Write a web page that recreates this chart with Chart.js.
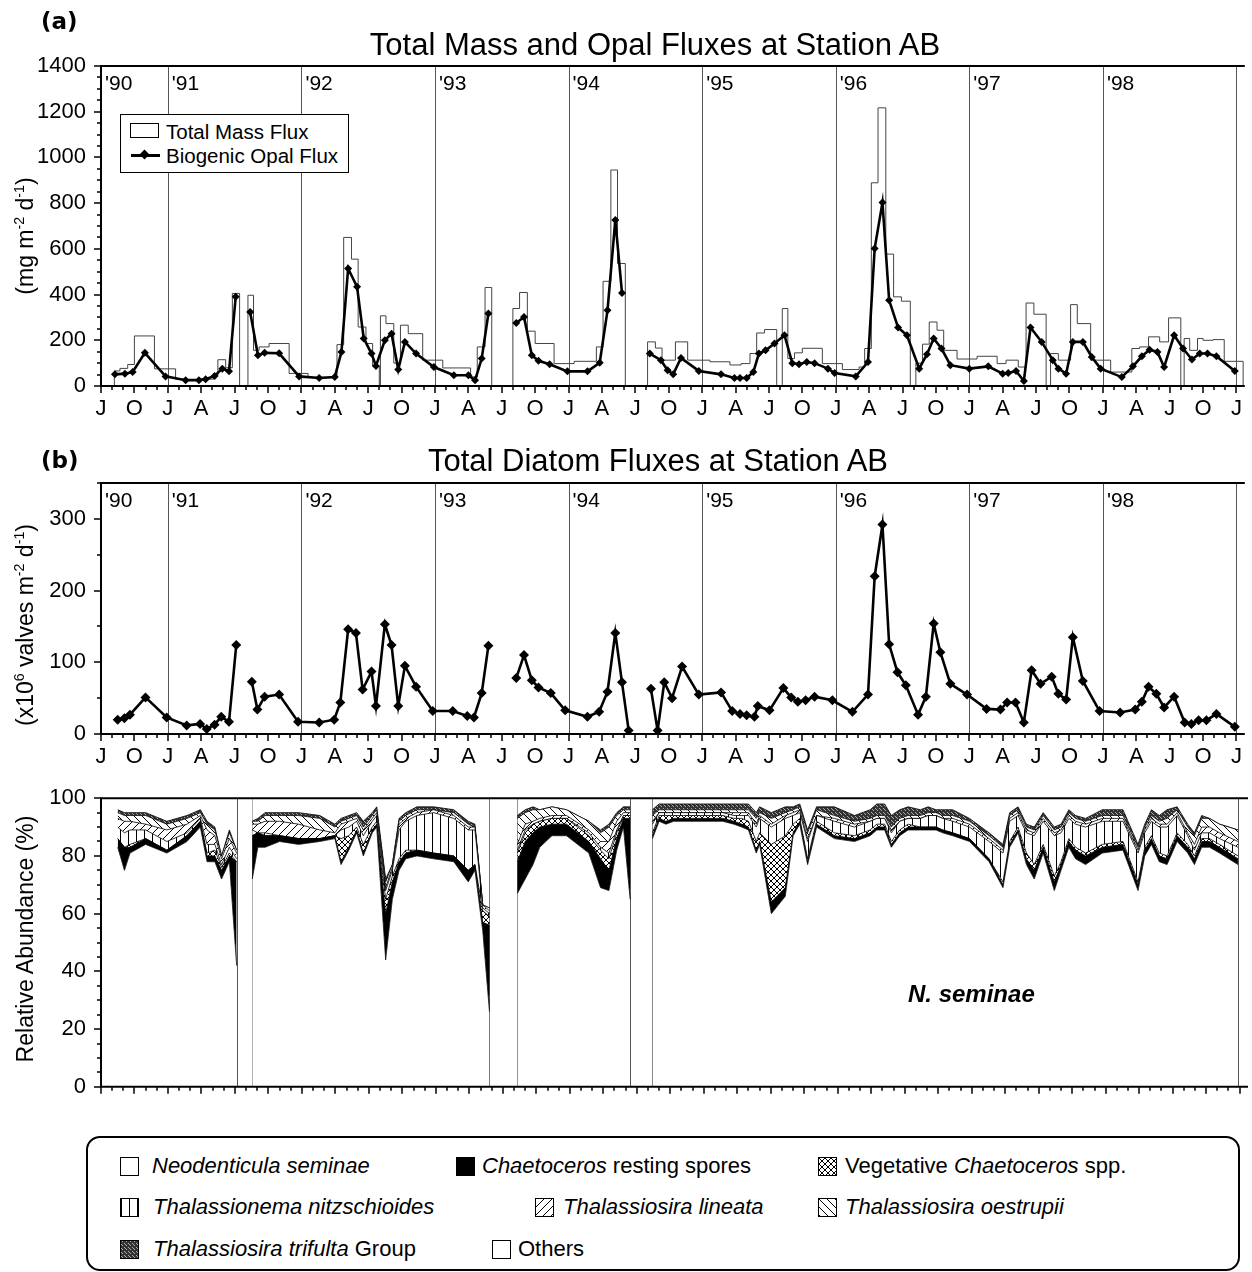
<!DOCTYPE html>
<html>
<head>
<meta charset="utf-8">
<title>Station AB fluxes</title>
<script src="https://cdn.jsdelivr.net/npm/chart.js@4.4.1/dist/chart.umd.min.js"></script>
<style>
  html,body{margin:0;padding:0;background:#fff}
  #page{position:relative;width:1252px;height:1272px;overflow:hidden;font-family:"Liberation Sans",Arial,sans-serif;color:#000}
  #page canvas.chart{position:absolute;left:0}
  .t{position:absolute;white-space:nowrap;line-height:1}
  .c{transform:translateX(-50%)}
  .rot{position:absolute;white-space:nowrap;line-height:1;font-size:23px;transform:translate(-50%,-50%) rotate(-90deg)}
  .rot sup{font-size:0.62em;vertical-align:0.6em;line-height:0}
  .tag{font-family:"DejaVu Sans",sans-serif;font-weight:bold;font-size:23px}
  .title{font-size:31px}
  #legA{position:absolute;left:120px;top:114px;width:227px;height:57px;border:1px solid #000;background:#fff}
  #legC{position:absolute;left:86px;top:1136px;width:1150px;height:131px;border:2px solid #000;border-radius:14px}
  .sw{position:absolute;border:1px solid #000}
  .lg{font-size:22px}
</style>
</head>
<body>
<div id="page">
  <canvas class="chart" id="c1" width="1252" height="430" style="top:0"></canvas>
  <canvas class="chart" id="c2" width="1252" height="340" style="top:430px"></canvas>
  <canvas class="chart" id="c3" width="1252" height="345" style="top:770px"></canvas>

  <div class="t tag" style="left:41px;top:10px">(a)</div>
  <div class="t title c" style="left:655px;top:29px">Total Mass and Opal Fluxes at Station AB</div>
  <div class="rot" style="left:25px;top:236px">(mg m<sup>-2</sup> d<sup>-1</sup>)</div>

  <div id="legA">
    <div style="position:absolute;left:9px;top:8px;width:29px;height:15px;border:1px solid #000;box-sizing:border-box"></div>
    <div class="t" style="left:45px;top:7px;font-size:20.5px">Total Mass Flux</div>
    <div style="position:absolute;left:10px;top:39px;width:29px;height:3px;background:#000"></div>
    <div style="position:absolute;left:20px;top:36px;width:7px;height:7px;background:#000;transform:rotate(45deg)"></div>
    <div class="t" style="left:45px;top:31px;font-size:20.5px">Biogenic Opal Flux</div>
  </div>

  <div class="t tag" style="left:41px;top:449px">(b)</div>
  <div class="t title c" style="left:658px;top:445px">Total Diatom Fluxes at Station AB</div>
  <div class="rot" style="left:25px;top:625px">(x10<sup>6</sup> valves m<sup>-2</sup> d<sup>-1</sup>)</div>

  <div class="rot" style="left:25px;top:939px">Relative Abundance (%)</div>
  <div class="t" style="left:908px;top:982px;font-size:24px;font-weight:bold;font-style:italic">N. seminae</div>

  <div id="legC"></div>
  <div id="legItems"></div>
</div>

<script>
// ---- axis: months since Jan 1990 ----
const X_MIN = 6, X_MAX = 108.75;
const yearTags = ["'90", "'91", "'92", "'93", "'94", "'95", "'96", "'97", "'98"];
const monthTags = {0: 'J', 3: 'A', 6: 'J', 9: 'O'};

// ---- (a) total mass flux, one value per trap cup ----
const cupStart = [7.2,7.7,8.4,9.0,10.8,12.7,16.1,16.5,17.2,17.8,
  19.2,19.7,20.2,21.1,22.9,24.6,27.2,27.8,28.5,29.1,29.8,30.4,
  31.1,31.6,32.3,32.9,33.6,34.9,36.7,39.2,39.8,40.5,
  43.0,43.6,44.3,45.0,46.7,48.5,50.5,51.1,51.8,52.4,
  55.1,55.8,56.4,57.6,58.7,60.7,62.5,63.5,64.3,64.9,65.6,
  67.2,67.7,68.3,69.0,70.8,72.6,74.1,74.6,75.2,75.8,76.5,77.2,77.9,
  79.2,79.8,80.4,81.1,81.7,82.9,84.7,86.5,87.3,88.4,89.1,89.8,
  91.3,92.0,93.1,93.7,94.9,96.7,98.6,99.3,100.1,101.1,101.9,
  103.3,103.8,104.5,105.0,105.9,106.9];
const totalMass = [66,77,94,219,75,30,45,115,80,405,
  397,156,171,186,55,38,181,650,555,258,186,88,
  307,273,100,266,229,113,79,40,171,431,
  339,409,240,186,98,108,171,458,945,536,
  193,166,113,193,113,106,92,98,142,232,247,
  339,120,145,165,98,72,83,164,889,1217,577,390,371,
  100,183,280,244,156,118,130,98,113,83,363,314,
  142,113,356,273,113,61,164,171,215,193,298,
  208,156,208,200,203,108];
const deployEnd = [18.45,31.0,41.1,53.1,66.7,78.7,90.9,103.0,108.6];

// ---- (a) biogenic opal flux ----
const opalMonth = [7.25,8.15,8.84,9.94,11.8,13.6,14.8,15.4,16.2,16.9,17.5,18.1, 18.8,
  19.4,20.1,20.7,22.0,23.8,25.6,27.0,27.6,28.2,29.0,29.6,30.3,30.7,31.5,32.1,32.7,33.3,34.3,35.9,37.7,39.0,39.6,40.2,40.8, 42.0,
  43.3,44.0,44.7,45.3,46.3,47.9,49.7,50.8,51.5,52.2,52.8, 54.0,
  55.3,56.3,56.9,57.4,58.1,59.7,61.7,62.9,63.4,64.0,64.6,65.1,65.7,66.5,67.4,68.1,68.7,69.4,70.1,71.3,
  71.9,73.8,74.9,75.5,76.2,76.8,77.6,78.4,79.5,80.2,80.8,81.5,82.3,84.0,85.7,87.0,87.5,88.2,88.9,89.5,
  90.5,91.5,92.0,92.7,93.3,94.2,95.0,95.8,97.7,98.7,99.5,100.2,100.9,101.5,102.4,103.2,104.0,104.7,105.4,106.2,107.85];
const opalFlux = [51,54,61,145,42,25,25,30,44,76,65,390, null,
  324,134,145,143,42,35,39,149,514,434,208,142,88,200,229,72,193,142,83,47,47,25,120,317, null,
  276,302,134,110,95,64,64,102,331,726,407, null,
  142,113,69,51,123,66,51,35,35,35,61,142,156,186,222,100,95,105,100,76,
  57,42,105,602,803,375,256,222,76,139,208,164,91,76,86,54,57,66,22,256,
  193,113,76,54,193,193,127,76,39,86,130,159,149,83,222,164,116,142,142,130,66];

// ---- (b) diatom flux and (c) relative abundance share these sample dates ----
const sampleMonth = [7.5,8.1,8.6,10.0,11.9,13.7,14.9,15.5,16.2,16.8,17.5,18.15, 18.8,
  19.55,20.05,20.7,22.0,23.7,25.6,26.95,27.5,28.2,28.9,29.5,30.3,30.7,31.5,32.1,32.7,33.3,34.3,35.8,37.6,38.9,39.5,40.2,40.8, 42.0,
  43.3,44.0,44.7,45.3,46.4,47.7,49.7,50.75,51.5,52.2,52.8,53.4, 54.4,
  55.4,56.0,56.6,57.3,58.2,59.7,61.7,62.7,63.4,64.0,64.7,65.0,66.05,67.3,68.0,68.6,69.3,70.1,71.7,73.5,
  74.9,75.5,76.2,76.8,77.55,78.3,79.4,80.1,80.8,81.4,82.3,83.8,85.55,86.8,87.4,88.15,88.9,89.6,90.4,91.4,
  92.0,92.7,93.3,94.2,95.7,97.55,98.9,99.5,100.1,100.8,101.5,102.4,103.35,103.95,104.6,105.3,106.2,107.85];
const diatomFlux = [20,22,27,51,23,12,14,7,13,24,17,124, null,
  73,34,52,55,17,16,20,44,146,141,62,87,39,153,124,39,95,66,32,32,25,23,57,123, null,
  78,110,75,65,57,33,24,31,59,141,72,5, null,
  63,5,72,50,94,55,58,32,28,26,24,39,33,64,51,45,47,52,47,31,
  55,220,292,125,86,68,27,52,154,114,70,55,35,34,44,44,16,89,70,80,
  56,48,135,74,32,30,34,45,66,56,37,52,16,14,19,19,28,10];

// relative abundance (%) of each group, bottom to top
const nSeminae = [83,75,81,84,81,85,90,78,78,72,78,42, null,
  72,83,83,85,84,85,86,77,82,88,80,88,90,44,65,75,79,80,79,78,71,75,54,26, null,
  67,72,77,83,87,87,81,69,68,82,90,65, null,
  86,92,91,92,92,92,92,91,90,89, 81,84,60,66,87,91,77,90,86,85, 87,89,89,83,87,89,89,89,89,88,
  87,85,78,69,83,88,77,72,81,68, 75,83,79,77,81,82,68,80,84,78, 77,85,81,77,83,83,81,77];
const restSpores = [3,8,2,2,1,2,2,2,2,3,2,36, null,
  15,5,4,2,2,1,1,1,1,1,1,1,1,16,6,3,2,2,2,2,4,2,3,30, null,
  11,13,11,7,4,4,4,10,7,4,3,28, null,
  1,1,1,1,1,1,1,1,1,1, 1,1,4,3,1,1,1,1,1,1, 1,1,1,1,1,1,1,1,1,1,
  1,1,1,1,1,1,2,3,2,3, 2,2,3,3,2,2,2,2,2,2, 2,2,2,2,2,2,2,2];
const vegChaet = [0,0,1,0,0,0,0,1,2,1,1,0, null,
  0,0,0,0,0,0,0,8,4,1,3,1,1,5,2,1,1,0,0,0,0,0,4,3, null,
  3,3,3,2,2,2,2,3,4,2,1,1, null,
  1,1,2,1,1,1,1,1,2,2, 3,3,20,18,3,1,1,1,1,1, 1,1,1,1,1,1,0,0,0,0,
  0,0,0,1,1,1,2,2,1,2, 1,1,1,1,1,1,1,1,1,1, 1,1,1,1,1,1,1,1];
const tNitz = [4,5,5,3,3,1,1,3,2,1,2,1, null,
  2,0,1,0,0,0,0,3,3,2,3,2,2,3,2,10,10,12,14,13,14,12,1,1, null,
  1,1,0,0,0,0,1,1,2,1,0,0, null,
  3,1,1,1,1,1,1,1,1,2, 5,5,6,6,3,2,6,2,4,3, 3,2,2,3,3,2,3,4,4,4,
  4,4,6,10,7,4,7,10,8,14, 10,7,8,9,8,7,10,5,5,9, 10,6,3,2,2,2,2,3];
const tLineata = [3,4,3,2,4,3,1,5,3,2,3,2, null,
  2,3,4,5,5,3,1,2,2,1,2,1,1,1,1,2,1,1,1,1,1,1,1,1, null,
  2,2,1,1,1,1,1,2,4,3,1,1, null,
  1,0,0,0,0,0,0,1,1,1, 1,1,1,1,1,1,1,0,1,1, 0,0,0,1,0,0,0,0,0,0,
  1,1,1,1,1,1,1,1,1,1, 1,1,1,1,1,1,1,1,1,1, 1,1,1,2,2,2,2,2];
const tOestrupii = [2,2,2,3,2,2,1,2,2,1,2,1, null,
  1,1,2,2,3,4,2,1,1,1,1,1,1,2,1,1,1,1,0,1,1,0,0,1, null,
  9,4,4,3,3,2,3,3,5,2,1,1, null,
  2,1,1,1,1,1,1,1,1,1, 2,1,2,1,1,1,2,2,1,1, 1,1,1,1,1,1,1,1,1,1,
  1,1,1,1,1,1,1,1,1,1, 1,1,1,1,1,1,1,1,1,1, 2,1,2,3,3,3,3,4];
const tTrifulta = [1,1,1,1,1,1,1,1,1,0,1,0, null,
  0,1,1,1,1,1,1,1,1,1,2,1,1,1,0,1,1,1,1,1,1,1,0,0, null,
  1,1,1,0,0,0,0,1,1,1,1,1, null,
  2,2,2,2,2,2,2,2,2,2, 2,2,2,2,1,1,1,1,3,2, 3,4,4,4,3,3,2,2,1,2,
  2,1,1,1,1,1,1,1,1,1, 1,1,1,1,2,2,1,1,2,2, 3,1,1,1,1,0,0,0];
const others = [4,5,5,5,8,6,4,8,10,20,11,18, null,
  8,7,5,5,5,6,9,7,6,5,8,5,3,28,23,7,5,3,3,4,8,9,37,38, null,
  6,4,3,4,3,4,8,11,9,5,3,3, null,
  4,2,2,2,2,2,2,2,2,2, 5,3,5,3,3,2,11,3,3,6, 4,2,2,6,4,3,4,3,4,4,
  4,7,12,16,5,3,9,10,5,10, 9,4,6,7,4,4,16,9,4,6, 4,3,9,12,6,7,9,11];

const layerNames = ['Neodenticula seminae', 'Chaetoceros resting spores', 'Vegetative Chaetoceros spp.',
  'Thalassionema nitzschioides', 'Thalassiosira lineata', 'Thalassiosira oestrupii',
  'Thalassiosira trifulta Group', 'Others'];
const layerData = [nSeminae, restSpores, vegChaet, tNitz, tLineata, tOestrupii, tTrifulta, others];
const layerFill = ['white', 'solid', 'cross', 'vert', 'fwd', 'back', 'dots', 'white'];

// ---- fill patterns ----
function tile(kind){
  const s = kind === 'cross' ? 6 : (kind === 'dots' ? 4 : 8);
  const c = document.createElement('canvas');
  c.width = c.height = s;
  const g = c.getContext('2d');
  g.fillStyle = '#fff'; g.fillRect(0, 0, s, s);
  g.fillStyle = '#000'; g.strokeStyle = '#000'; g.lineWidth = 1;
  const diag = dir => {
    g.beginPath();
    for(let k = -1; k <= 1; k++){
      if(dir > 0){ g.moveTo(k*s, s); g.lineTo(k*s + s, 0); }
      else { g.moveTo(k*s, 0); g.lineTo(k*s + s, s); }
    }
    g.stroke();
  };
  if(kind === 'solid') g.fillRect(0, 0, s, s);
  if(kind === 'vert') g.fillRect(0, 0, 1, s);
  if(kind === 'fwd') diag(1);
  if(kind === 'back') diag(-1);
  if(kind === 'cross'){ diag(1); diag(-1); }
  if(kind === 'dots'){
    g.fillStyle = '#333'; g.fillRect(0, 0, s, s);
    g.fillStyle = '#aaa'; g.fillRect(1, 0, 1, 1); g.fillRect(3, 2, 1, 1); g.fillRect(0, 3, 1, 1);
  }
  return c;
}
function paint(ctx, kind){
  if(kind === 'white') return '#fff';
  return ctx.createPattern(tile(kind), 'repeat');
}

// ---- shared axes / frame plugin ----
const frame = {
  id: 'frame',
  beforeDatasetsDraw(chart, args, opt){
    const {ctx, chartArea: a, scales: {x}} = chart;
    const lines = [];
    if(opt.years) for(let m = 12; m <= x.max; m += 12) lines.push(m);
    (opt.extra || []).forEach(m => lines.push(m));
    ctx.save();
    ctx.strokeStyle = '#555'; ctx.lineWidth = 1;
    lines.forEach(m => {
      const px = Math.round(x.getPixelForValue(m)) + 0.5;
      ctx.beginPath(); ctx.moveTo(px, a.top); ctx.lineTo(px, a.bottom); ctx.stroke();
    });
    ctx.restore();
  },
  afterDatasetsDraw(chart, args, opt){
    const {ctx, chartArea: a, scales: {x, y}} = chart;
    ctx.save();
    ctx.strokeStyle = '#000'; ctx.lineWidth = 2;
    ctx.beginPath();
    ctx.moveTo(a.right, a.top); ctx.lineTo(a.left, a.top);
    ctx.lineTo(a.left, a.bottom); ctx.lineTo(a.right, a.bottom);
    ctx.stroke();
    ctx.lineWidth = 1.5;
    ctx.beginPath();
    for(let m = Math.ceil(x.min); m <= x.max; m++){
      const px = Math.round(x.getPixelForValue(m));
      ctx.moveTo(px, a.bottom); ctx.lineTo(px, a.bottom + (m % 3 === 0 ? 7 : 4));
    }
    for(let v = y.min; v <= y.max + 1e-6; v += opt.yMinor){
      const py = Math.round(y.getPixelForValue(v));
      ctx.moveTo(a.left, py); ctx.lineTo(a.left - (v % opt.yMajor === 0 ? 7 : 4), py);
    }
    ctx.stroke();
    if(opt.tags){
      ctx.fillStyle = '#000';
      ctx.font = '21px "Liberation Sans", Arial, sans-serif';
      yearTags.forEach((t, i) => {
        const m = Math.max(12 * i, x.min);
        ctx.fillText(t, x.getPixelForValue(m) + 4, a.top + 24);
      });
    }
    ctx.restore();
  }
};

Chart.defaults.font.family = '"Liberation Sans", Arial, sans-serif';
Chart.defaults.color = '#000';

function xAxis(h, labels){
  return {
    type: 'linear', min: X_MIN, max: X_MAX,
    grid: {display: false, drawTicks: false}, border: {display: false},
    afterFit: s => { s.height = h; },
    ticks: {
      display: labels, stepSize: 1, includeBounds: false, autoSkip: false, maxRotation: 0, padding: 10,
      font: {size: 22},
      callback: v => (monthTags[((v % 12) + 12) % 12] || '')
    }
  };
}
function yAxis(max, step, major){
  return {
    min: 0, max: max,
    grid: {display: false, drawTicks: false}, border: {display: false},
    afterFit: s => { s.width = 101; },
    ticks: {stepSize: step, autoSkip: false, padding: 15, font: {size: 22},
      callback: v => (v % major === 0 ? v : '')}
  };
}
const base = {responsive: false, animation: false, devicePixelRatio: 1};

// ---- (a) ----
const massPts = [];
let dep = 0, fresh = true;
cupStart.forEach((s, i) => {
  while(s >= deployEnd[dep]){ massPts.push({x: deployEnd[dep], y: 0}); dep++; fresh = true; }
  if(fresh){ massPts.push({x: s, y: 0}); fresh = false; }
  massPts.push({x: s, y: totalMass[i]});
});
massPts.push({x: deployEnd[dep], y: 0});

new Chart(document.getElementById('c1'), {
  type: 'line',
  data: {datasets: [
    {label: 'Biogenic Opal Flux', data: opalMonth.map((m, i) => ({x: m, y: opalFlux[i]})),
      borderColor: '#000', borderWidth: 2.6, pointStyle: 'rectRot', pointRadius: 4,
      pointBackgroundColor: '#000', pointBorderWidth: 0, spanGaps: false, tension: 0},
    {label: 'Total Mass Flux', data: massPts, stepped: true,
      borderColor: '#444', borderWidth: 1, pointRadius: 0}
  ]},
  options: Object.assign({}, base, {
    layout: {padding: {top: 66, right: 4, left: 0, bottom: 0}},
    scales: {x: xAxis(44, true), y: yAxis(1400, 50, 200)},
    plugins: {legend: {display: false}, tooltip: {enabled: false},
      frame: {years: true, tags: true, yMinor: 50, yMajor: 200}}
  }),
  plugins: [frame]
});

// ---- (b) ----
new Chart(document.getElementById('c2'), {
  type: 'line',
  data: {datasets: [
    {label: 'Total diatom flux', data: sampleMonth.map((m, i) => ({x: m, y: diatomFlux[i]})),
      borderColor: '#000', borderWidth: 2.6, pointStyle: 'rectRot', pointRadius: 5,
      pointBackgroundColor: '#000', pointBorderWidth: 0, spanGaps: false, tension: 0}
  ]},
  options: Object.assign({}, base, {
    layout: {padding: {top: 53, right: 4, left: 0, bottom: 0}},
    scales: {x: xAxis(36, true), y: yAxis(350, 50, 100)},
    plugins: {legend: {display: false}, tooltip: {enabled: false},
      frame: {years: true, tags: true, yMinor: 50, yMajor: 100}}
  }),
  plugins: [frame]
});

// ---- (c) ----
const c3 = document.getElementById('c3');
const ctx3 = c3.getContext('2d');
const segEdges = [];
sampleMonth.forEach((m, i) => {
  if(nSeminae[i] === null) return;
  const prevGap = i === 0 || nSeminae[i - 1] === null;
  const nextGap = i === sampleMonth.length - 1 || nSeminae[i + 1] === null;
  if(prevGap || nextGap) segEdges.push(m);
});

new Chart(c3, {
  type: 'line',
  data: {datasets: layerData.map((arr, i) => ({
    label: layerNames[i],
    data: sampleMonth.map((m, k) => ({x: m, y: arr[k]})),
    backgroundColor: paint(ctx3, layerFill[i]),
    borderColor: '#000', borderWidth: 0.8, pointRadius: 0, tension: 0,
    spanGaps: false, fill: i === 0 ? 'origin' : '-1'
  }))},
  options: Object.assign({}, base, {
    layout: {padding: {top: 24, right: 4, left: 0, bottom: 0}},
    scales: {x: xAxis(22, false), y: Object.assign(yAxis(100, 5, 20), {stacked: true})},
    plugins: {legend: {display: false}, tooltip: {enabled: false},
      frame: {years: false, tags: false, extra: segEdges, yMinor: 5, yMajor: 20}}
  }),
  plugins: [frame]
});

// ---- (c) legend ----
const legSlots = [
  [120, 1166, 152], [456, 1166, 482], [818, 1166, 845],
  [120, 1207, 153], [535, 1207, 563], [818, 1207, 845],
  [120, 1249, 153], [492, 1249, 518]
];
const legHtml = [
  '<i>Neodenticula seminae</i>', '<i>Chaetoceros</i> resting spores', 'Vegetative <i>Chaetoceros</i> spp.',
  '<i>Thalassionema nitzschioides</i>', '<i>Thalassiosira lineata</i>', '<i>Thalassiosira oestrupii</i>',
  '<i>Thalassiosira trifulta</i> Group', 'Others'
];
const holder = document.getElementById('legItems');
layerFill.forEach((kind, li) => {
  const [sx, cy, tx] = legSlots[li];
  const cv = document.createElement('canvas');
  cv.width = 17; cv.height = 17; cv.className = 'sw';
  cv.style.left = sx + 'px'; cv.style.top = (cy - 9) + 'px';
  const g = cv.getContext('2d');
  g.fillStyle = paint(g, kind); g.fillRect(0, 0, 17, 17);
  holder.appendChild(cv);
  const d = document.createElement('div');
  d.className = 't lg';
  d.style.left = tx + 'px'; d.style.top = (cy - 11) + 'px';
  d.innerHTML = legHtml[li];
  holder.appendChild(d);
});
</script>
</body>
</html>
